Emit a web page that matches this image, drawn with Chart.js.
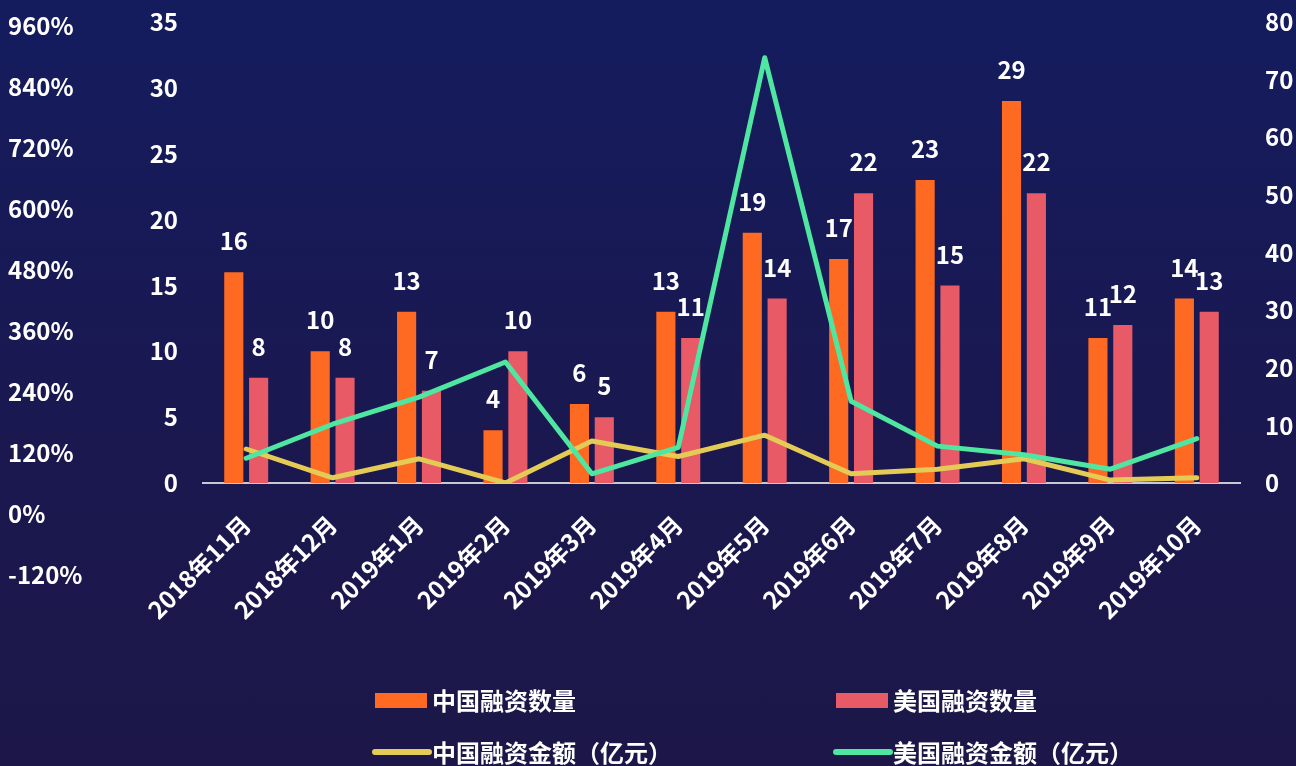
<!DOCTYPE html>
<html>
<head>
<meta charset="utf-8">
<script src="https://cdn.jsdelivr.net/npm/chart.js@4.4.0/dist/chart.umd.min.js"></script>
<style>
  html, body { margin: 0; padding: 0; }
  body { width: 1296px; height: 766px; overflow: hidden;
         background: linear-gradient(180deg, #141c5e 0%, #1a1850 55%, #1c1748 100%); }
  canvas { display: block; }
</style>
</head>
<body>
<canvas id="chart" width="1296" height="766"></canvas>
<script>
const months = ['2018年11月', '2018年12月', '2019年1月', '2019年2月', '2019年3月', '2019年4月',
                '2019年5月', '2019年6月', '2019年7月', '2019年8月', '2019年9月', '2019年10月'];
const cnCount = [16, 10, 13, 4, 6, 13, 19, 17, 23, 29, 11, 14];
const usCount = [8, 8, 7, 10, 5, 11, 14, 22, 15, 22, 12, 13];
const cnAmount = [5.9, 0.9, 4.2, 0, 7.3, 4.6, 8.3, 1.6, 2.4, 4.2, 0.5, 0.9];
const usAmount = [4.3, 10.2, 14.9, 21.0, 1.6, 6.2, 73.8, 14.2, 6.4, 4.9, 2.4, 7.7];
const seriesNames = ['中国融资数量', '美国融资数量', '中国融资金额（亿元）', '美国融资金额（亿元）'];
const pctMin = -120, pctMax = 960, pctStep = 120;

const FONT = '"Noto Sans CJK SC", "Noto Sans", sans-serif';
const COLORS = ['#ff6a22', '#e75a66', '#e4cb56', '#4ee6a0'];

// percent axis in the source runs past the plot area, so stretch it after layout
const stretchPct = {
  id: 'stretchPct',
  afterLayout(chart) {
    const s = chart.scales.pct;
    s.top = 26;
    s.bottom = 575;
    s.height = s.bottom - s.top;
    s.configure();
  }
};

const barLabels = {
  id: 'barLabels',
  afterDatasetsDraw(chart) {
    const ctx = chart.ctx;
    ctx.save();
    ctx.fillStyle = '#fff';
    ctx.font = 'bold 24px ' + FONT;
    ctx.textAlign = 'center';
    ctx.textBaseline = 'middle';
    chart.data.datasets.forEach((ds, i) => {
      if (ds.type !== 'bar') return;
      chart.getDatasetMeta(i).data.forEach((el, j) => {
        ctx.fillText(ds.data[j], el.x, el.y - 31);
      });
    });
    ctx.restore();
  }
};

const legendBoxes = {
  id: 'legendBoxes',
  afterDraw(chart) {
    const ctx = chart.ctx;
    const cols = [375, 836];
    const rows = [700, 752];
    ctx.save();
    ctx.font = 'bold 24px ' + FONT;
    ctx.textBaseline = 'middle';
    seriesNames.forEach((name, i) => {
      const x = cols[i % 2], y = rows[Math.floor(i / 2)];
      if (i < 2) {
        ctx.fillStyle = COLORS[i];
        ctx.fillRect(x, y - 7, 52, 15);
      } else {
        ctx.strokeStyle = COLORS[i];
        ctx.lineWidth = 6;
        ctx.lineCap = 'round';
        ctx.beginPath();
        ctx.moveTo(x, y);
        ctx.lineTo(x + 54, y);
        ctx.stroke();
      }
      ctx.fillStyle = '#fff';
      ctx.fillText(name, x + 57, y + 1);
    });
    ctx.restore();
  }
};

const tickFont = { family: FONT, size: 24, weight: 'bold' };

// fixed widths, and no label overflow padding so the plot top sits at the layout padding
const fixWidth = w => s => { s.width = w; s.paddingTop = 0; s.paddingBottom = 0; };

new Chart(document.getElementById('chart'), {
  data: {
    labels: months,
    datasets: [
      { type: 'line', label: seriesNames[3], data: usAmount, yAxisID: 'y1', order: 0,
        borderColor: COLORS[3], borderWidth: 5, pointRadius: 0, tension: 0,
        borderCapStyle: 'round', borderJoinStyle: 'round' },
      { type: 'line', label: seriesNames[2], data: cnAmount, yAxisID: 'y1', order: 1,
        borderColor: COLORS[2], borderWidth: 5, pointRadius: 0, tension: 0,
        borderCapStyle: 'round', borderJoinStyle: 'round' },
      { type: 'bar', label: seriesNames[0], data: cnCount, yAxisID: 'y', order: 2,
        backgroundColor: COLORS[0], barPercentage: 0.77, categoryPercentage: 0.575 },
      { type: 'bar', label: seriesNames[1], data: usCount, yAxisID: 'y', order: 3,
        backgroundColor: COLORS[1], barPercentage: 0.77, categoryPercentage: 0.575 }
    ]
  },
  options: {
    responsive: false,
    animation: false,
    layout: { padding: { left: 8, top: 22, right: 0, bottom: 0 } },
    plugins: {
      legend: { display: false },
      tooltip: { enabled: false }
    },
    scales: {
      x: {
        grid: { display: false, drawTicks: false },
        border: { display: true, color: '#c9c9d3', width: 2 },
        ticks: { color: '#fff', font: tickFont, minRotation: 45, maxRotation: 45, padding: 27 },
        afterFit: s => { s.height = 283; }
      },
      y: {
        position: 'left', weight: 1, min: 0, max: 35,
        grid: { display: false, drawTicks: false },
        border: { display: false },
        ticks: { color: '#fff', font: tickFont, stepSize: 5, padding: 25 },
        afterFit: fixWidth(95)
      },
      pct: {
        position: 'left', weight: 10, min: pctMin, max: pctMax,
        grid: { display: false, drawTicks: false },
        border: { display: false },
        ticks: { color: '#fff', font: tickFont, stepSize: pctStep, autoSkip: false,
                 crossAlign: 'far', padding: 0, callback: v => v + '%' },
        afterFit: fixWidth(100)
      },
      y1: {
        position: 'right', min: 0, max: 80,
        grid: { display: false, drawTicks: false },
        border: { display: false },
        ticks: { color: '#fff', font: tickFont, stepSize: 10, padding: 25 },
        afterFit: fixWidth(56)
      }
    }
  },
  plugins: [stretchPct, barLabels, legendBoxes]
});
</script>
</body>
</html>
